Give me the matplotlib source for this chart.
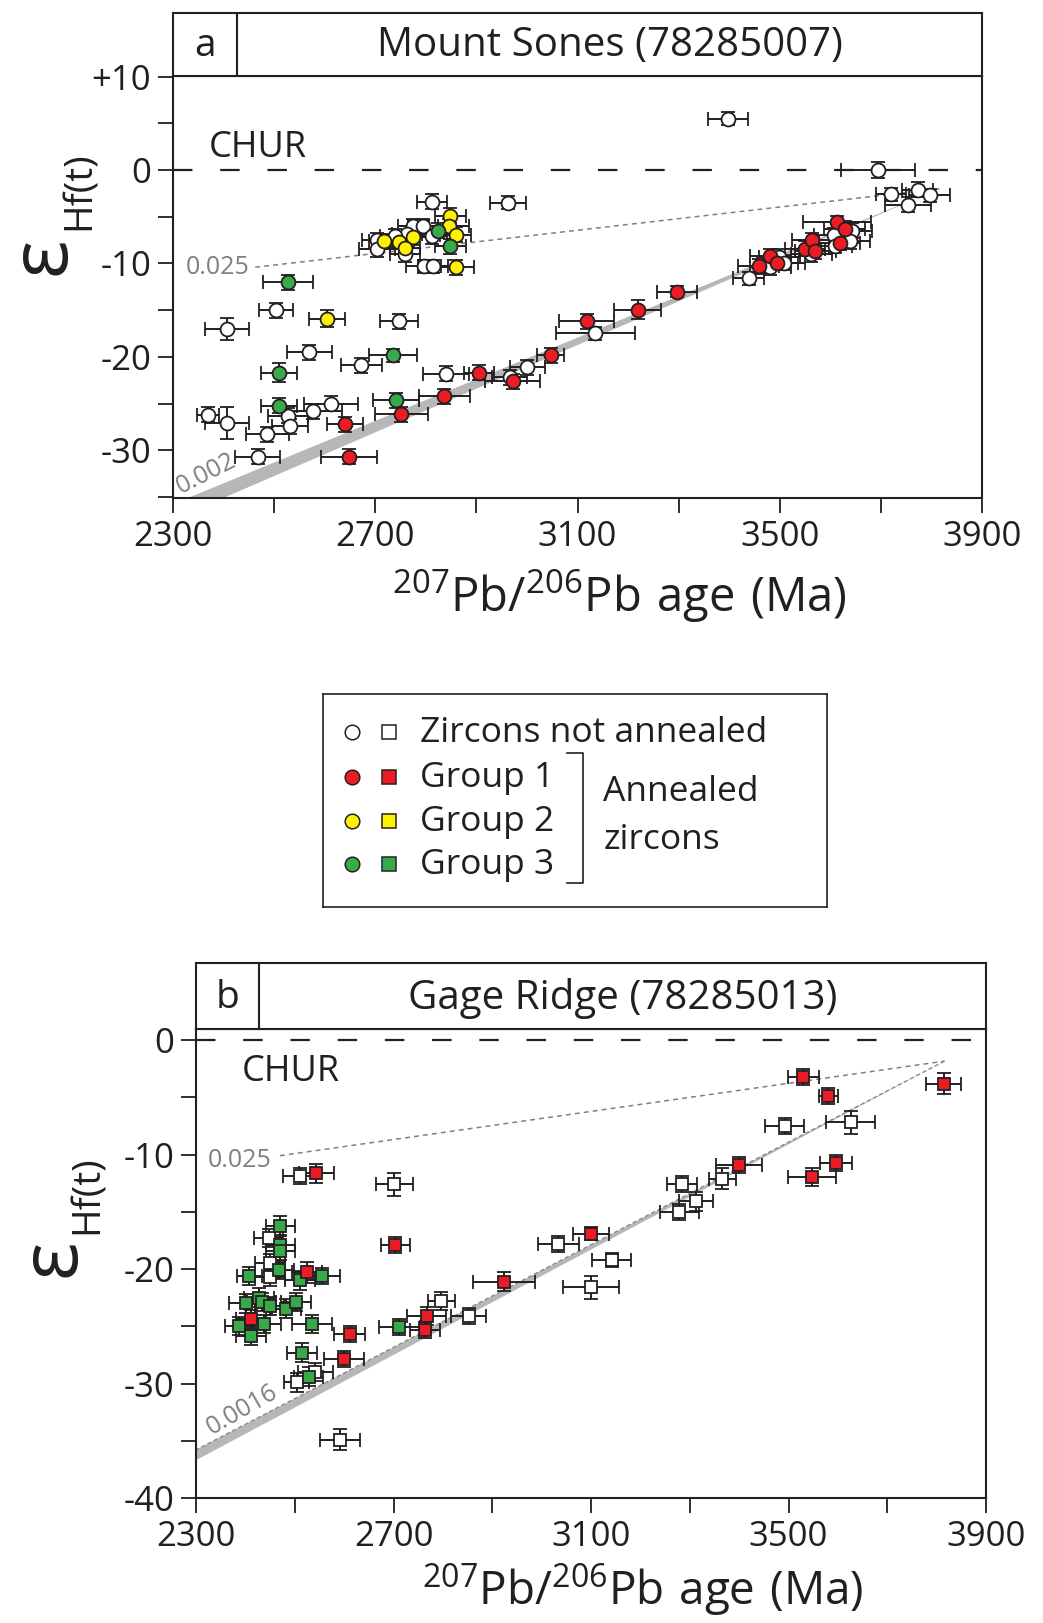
import matplotlib
matplotlib.use("Agg")
import matplotlib.pyplot as plt
import numpy as np

plt.rcParams['font.family'] = ['Open Sans', 'DejaVu Sans']
plt.rcParams['mathtext.default'] = 'regular'
plt.rcParams['lines.scale_dashes'] = False

W, H = 1043, 1623
INK = '#231f20'
RED = '#ed1c24'
YEL = '#fff200'
GRN = '#39aa4a'
BAND = '#b7b7ba'

# ---------------- Panel a: Mount Sones (78285007) -- circles ----------------
a_open_x = [2813, 2963, 2775, 2795, 2813, 2763, 2740, 2704, 2704, 2759, 2796, 2815,
            2504, 2407, 2747, 2570, 2673, 2840, 2966, 3001, 2613, 2578, 2370, 2407,
            2528, 2532, 2487, 2468, 3135, 3397, 3694, 3719, 3772, 3796, 3753, 3607,
            3643, 3638, 3608, 3562, 3499, 3509, 3481, 3438]
a_open_y = [-3.4, -3.5, -6.0, -6.0, -7.1, -6.8, -7.1, -7.5, -8.5, -9.0, -10.3, -10.3,
            -15.0, -17.0, -16.2, -19.5, -20.9, -21.8, -22.2, -21.1, -25.0, -25.8, -26.2, -27.1,
            -26.3, -27.4, -28.3, -30.7, -17.45, 5.5, 0.0, -2.6, -2.1, -2.7, -3.7, -7.0,
            -6.5, -7.6, -8.1, -9.0, -9.3, -9.9, -10.4, -11.6]
a_open_xe = [30, 35, 30, 30, 30, 30, 30, 30, 35, 30, 35, 30,
             33, 44, 38, 45, 40, 45, 35, 35, 53, 56, 22, 44,
             40, 35, 43, 45, 78, 40, 73, 30, 30, 40, 45, 40,
             40, 40, 35, 40, 40, 40, 40, 30]
a_open_ye = [0.8, 0.7, 0.8, 0.8, 0.8, 0.8, 0.8, 0.8, 0.8, 0.8, 0.7, 0.7,
             0.8, 1.2, 0.8, 0.8, 0.8, 0.8, 0.8, 0.8, 0.8, 0.8, 0.8, 1.7,
             0.8, 0.8, 0.8, 0.8, 0.7, 0.7, 0.9, 0.7, 0.8, 0.7, 0.8, 0.8,
             0.8, 0.8, 0.8, 0.8, 0.8, 0.8, 0.8, 0.7]

a_red_x = [2905, 2972, 3047, 2837, 2752, 2640, 2648, 3118, 3219, 3297,
           3458, 3481, 3495, 3550, 3563, 3570, 3613, 3628, 3618]
a_red_y = [-21.7, -22.6, -19.8, -24.2, -26.15, -27.2, -30.7, -16.2, -14.95, -13.0,
           -10.3, -9.2, -9.9, -8.4, -7.5, -8.7, -5.6, -6.3, -7.8]
a_red_xe = [30, 54, 27, 51, 53, 36, 55, 54, 47, 39,
            40, 40, 40, 40, 40, 40, 68, 40, 40]
a_red_ye = [0.8, 0.8, 0.8, 0.8, 0.8, 0.8, 0.8, 0.8, 1.0, 0.6,
            0.8, 0.8, 0.8, 0.8, 0.8, 0.8, 0.7, 0.8, 0.8]

a_yel_x = [2849, 2846, 2859, 2774, 2718, 2747, 2759, 2860, 2605]
a_yel_y = [-4.9, -6.0, -6.9, -7.2, -7.6, -7.7, -8.3, -10.4, -15.9]
a_yel_xe = [30, 40, 30, 30, 30, 30, 30, 35, 35]
a_yel_ye = [0.8, 0.8, 0.8, 0.8, 0.8, 0.8, 0.8, 0.8, 0.9]

a_grn_x = [2825, 2849, 2528, 2735, 2510, 2741, 2510]
a_grn_y = [-6.5, -8.15, -12.0, -19.8, -21.7, -24.65, -25.2]
a_grn_xe = [30, 30, 49, 48, 36, 46, 35]
a_grn_ye = [0.8, 0.8, 0.8, 0.7, 1.0, 0.8, 0.8]

# model evolution lines (apex, lower ends)
a_band_x = [3815, 2330, 2400]
a_band_y = [-2.0, -35.1, -35.1]
a_line025_x = [2463, 3815]
a_line025_y = [-10.4, -2.0]

# ---------------- Panel b: Gage Ridge (78285013) -- squares ----------------
b_open_x = [2510, 2702, 2447, 2450, 2450, 3034, 2797, 2852, 2542, 2504, 2592,
            3492, 3626, 3366, 3284, 3313, 3279, 3142, 3100]
b_open_y = [-11.9, -12.6, -17.3, -19.5, -20.7, -17.8, -22.8, -24.1, -29.0, -29.9, -34.9,
            -7.5, -7.2, -12.1, -12.6, -14.1, -15.0, -19.2, -21.6]
b_open_xe = [34, 37, 30, 30, 30, 42, 28, 36, 35, 25, 41,
             40, 50, 27, 30, 35, 40, 39, 57]
b_open_ye = [0.7, 1.0, 0.8, 0.8, 0.8, 0.7, 0.8, 0.7, 0.8, 0.8, 0.9,
             0.7, 1.0, 0.9, 0.7, 0.8, 0.7, 0.6, 1.0]

b_red_x = [2544, 2704, 2525, 2923, 2411, 2611, 2767, 2764, 2600,
           3530, 3581, 3814, 3596, 3547, 3400, 3100]
b_red_y = [-11.65, -17.9, -20.3, -21.1, -24.4, -25.7, -24.1, -25.3, -27.9,
           -3.2, -4.9, -3.8, -10.7, -11.95, -10.9, -16.9]
b_red_xe = [35, 30, 30, 63, 30, 31, 40, 30, 40,
            32, 20, 36, 33, 49, 47, 37]
b_red_ye = [0.8, 0.7, 0.9, 0.8, 0.8, 0.7, 0.8, 0.7, 0.7,
            0.7, 0.7, 0.9, 0.7, 0.8, 0.7, 0.6]

b_grn_x = [2471, 2471, 2471, 2469, 2408, 2510, 2555, 2401, 2428, 2433,
           2449, 2483, 2503, 2388, 2437, 2411, 2535, 2712, 2515, 2528]
b_grn_y = [-16.2, -17.9, -18.4, -20.1, -20.6, -21.0, -20.6, -23.0, -22.5, -22.9,
           -23.25, -23.45, -22.9, -25.0, -24.8, -25.85, -24.8, -25.1, -27.3, -29.4]
b_grn_xe = [30, 30, 30, 30, 25, 30, 36, 35, 30, 30,
            30, 30, 30, 30, 35, 30, 41, 42, 30, 30]
b_grn_ye = [0.8, 0.8, 0.8, 0.8, 0.8, 0.8, 0.7, 0.8, 0.8, 0.8,
            0.8, 0.8, 0.8, 0.8, 0.8, 0.8, 0.8, 0.7, 0.8, 0.8]

b_band_x = [3816, 2300, 2300]
b_band_y = [-1.84, -35.8, -36.7]
b_line025_x = [2470, 3816]
b_line025_y = [-10.1, -1.84]

x_ticks = [2300, 2500, 2700, 2900, 3100, 3300, 3500, 3700, 3900]
x_labels = ['2300', '', '2700', '', '3100', '', '3500', '', '3900']
a_y_ticks = [10, 5, 0, -5, -10, -15, -20, -25, -30, -35]
a_y_labels = ['+10', '', '0', '', '-10', '', '-20', '', '-30', '']
b_y_ticks = [0, -5, -10, -15, -20, -25, -30, -35, -40]
b_y_labels = ['0', '', '-10', '', '-20', '', '-30', '', '-40']

legend_labels = ['Zircons not annealed', 'Group 1', 'Group 2', 'Group 3']
legend_colors = ['white', RED, YEL, GRN]

# ---------------------------------------------------------------------------
fig = plt.figure(figsize=(W / 100, H / 100), dpi=100)


def rect(l, t, r, b):
    return [l / W, 1 - b / H, (r - l) / W, (b - t) / H]


def fp(x, y):
    return (x / W, 1 - y / H)


def style_axes(ax, yt, yl):
    for s in ax.spines.values():
        s.set_linewidth(1.5)
        s.set_color(INK)
    ax.set_xlim(2300, 3900)
    ax.set_xticks(x_ticks)
    ax.set_xticklabels(x_labels)
    ax.set_yticks(yt)
    ax.set_yticklabels(yl)
    ax.tick_params(direction='out', length=10.5, width=1.3, color=INK,
                   labelsize=25, labelcolor=INK, pad=5)


def header(rc, frac, letter, title):
    h = fig.add_axes(rc)
    h.set_xlim(0, 1)
    h.set_ylim(0, 1)
    h.set_xticks([])
    h.set_yticks([])
    for s in h.spines.values():
        s.set_linewidth(1.5)
        s.set_color(INK)
    h.axvline(frac, color=INK, lw=1.5)
    h.text(frac / 2, 0.47, letter, ha='center', va='center', fontsize=28, color=INK)
    h.text((1 + frac) / 2, 0.47, title, ha='center', va='center', fontsize=29, color=INK)


def draw_points(ax, xs, ys, xe, ye, marker, face, ms):
    ax.errorbar(xs, ys, xerr=xe, yerr=ye, fmt=marker, mfc=face, mec=INK, mew=1.3,
                ms=ms, ecolor=INK, elinewidth=1.4, capsize=5, capthick=1.4, zorder=4)


# ---- panel a
axa = fig.add_axes(rect(172.7, 75.7, 982.3, 498))
style_axes(axa, a_y_ticks, a_y_labels)
axa.set_ylim(-35.1, 10.1)
axa.fill(a_band_x, a_band_y, color=BAND, lw=0, zorder=1)
axa.plot(a_line025_x, a_line025_y, color='#808080', lw=1.1, dashes=(3.5, 3), zorder=2)
axa.axhline(0, color=INK, lw=1.6, dashes=(14, 20), zorder=2)
draw_points(axa, a_open_x, a_open_y, a_open_xe, a_open_ye, 'o', 'white', 10)
draw_points(axa, a_yel_x, a_yel_y, a_yel_xe, a_yel_ye, 'o', YEL, 10)
draw_points(axa, a_grn_x, a_grn_y, a_grn_xe, a_grn_ye, 'o', GRN, 10)
draw_points(axa, a_red_x, a_red_y, a_red_xe, a_red_ye, 'o', RED, 10)
axa.text(2372, 1.4, 'CHUR', fontsize=26, color=INK, ha='left', va='baseline')
axa.text(2325, -11.1, '0.025', fontsize=18, color='#7f7f7f', ha='left', va='baseline')
axa.text(2366, -32.5, '0.002', fontsize=18, color='#7f7f7f', ha='center', va='center',
         rotation=27, rotation_mode='anchor')
header(rect(172.7, 12.5, 982.3, 75.7), 0.079, 'a', 'Mount Sones (78285007)')

# ---- panel b
axb = fig.add_axes(rect(196, 1029.3, 986, 1498))
style_axes(axb, b_y_ticks, b_y_labels)
axb.set_ylim(-40, 0.94)
axb.fill(b_band_x, b_band_y, color=BAND, lw=0, zorder=1)
axb.plot([b_band_x[0], b_band_x[1]], [b_band_y[0], b_band_y[1]], color='#8a8a8a',
         lw=1.0, dashes=(3, 2), zorder=2)
axb.plot(b_line025_x, b_line025_y, color='#808080', lw=1.1, dashes=(3.5, 3), zorder=2)
axb.axhline(0, color=INK, lw=1.6, dashes=(14, 20), zorder=2)
draw_points(axb, b_open_x, b_open_y, b_open_xe, b_open_ye, 's', 'white', 9.3)
draw_points(axb, b_grn_x, b_grn_y, b_grn_xe, b_grn_ye, 's', GRN, 9.3)
draw_points(axb, b_red_x, b_red_y, b_red_xe, b_red_ye, 's', RED, 9.3)
axb.text(2393, -3.6, 'CHUR', fontsize=26, color=INK, ha='left', va='baseline')
axb.text(2323, -11.1, '0.025', fontsize=18, color='#7f7f7f', ha='left', va='baseline')
axb.text(2393, -32.3, '0.0016', fontsize=18, color='#7f7f7f', ha='center', va='center',
         rotation=30, rotation_mode='anchor')
header(rect(196, 963, 986, 1029.3), 0.080, 'b', 'Gage Ridge (78285013)')

# ---- axis labels
xlab = r'$\mathregular{^{207}Pb/^{206}Pb\ age\ (Ma)}$'
fig.text(*fp(619, 596), xlab, fontsize=34, color=INK, ha='center', va='center')
fig.text(*fp(643, 1590), xlab, fontsize=33, color=INK, ha='center', va='center')
for (ex, ey), (hx, hy) in [((43, 256), (80, 191)), ((53, 1258), (88, 1195))]:
    fig.text(*fp(ex, ey), 'ε', fontsize=58, color=INK, ha='center', va='center', rotation=90)
    fig.text(*fp(hx, hy), 'Hf(t)', fontsize=28, color=INK, ha='center', va='center', rotation=90)

# ---- legend
lg = fig.add_axes(rect(322.7, 694, 826.7, 906.7))
lg.set_xlim(0, 504)
lg.set_ylim(212.7, 0)
lg.set_xticks([])
lg.set_yticks([])
for s in lg.spines.values():
    s.set_linewidth(1.2)
    s.set_color(INK)
rows = [37.7, 83.3, 127, 170]
for lab, col, ry in zip(legend_labels, legend_colors, rows):
    lg.plot([29], [ry], 'o', ms=10.5, mfc=col, mec=INK, mew=1.1)
    lg.plot([66.6], [ry], 's', ms=10.5, mfc=col, mec=INK, mew=1.1)
    lg.text(97, ry + 1, lab, fontsize=25.5, color=INK, ha='left', va='center')
lg.plot([244, 260.6, 260.6, 244], [59.3, 59.3, 189.3, 189.3], color=INK, lw=1.2)
lg.text(280.6, 97.7, 'Annealed', fontsize=25.5, color=INK, ha='left', va='center')
lg.text(280.6, 146, 'zircons', fontsize=25.5, color=INK, ha='left', va='center')

fig.savefig('out.png', dpi=100)
